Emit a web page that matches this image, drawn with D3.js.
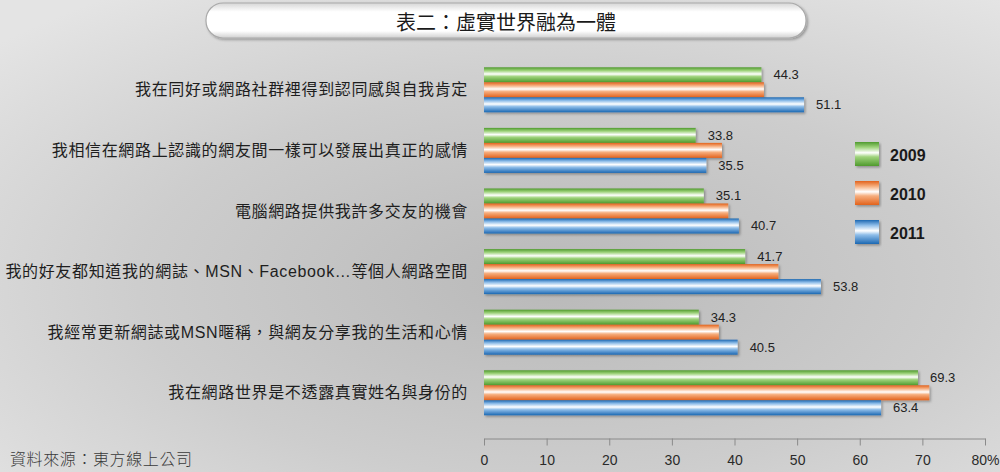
<!DOCTYPE html>
<html>
<head>
<meta charset="utf-8">
<script src="https://cdn.jsdelivr.net/npm/d3@7"></script>
<style>
  html, body { margin: 0; padding: 0; background: #ddd; }
  svg { display: block; }
</style>
</head>
<body>
<svg id="chart" width="1000" height="472"></svg>
<script>
// ---- data ----
const title = "表二：虛實世界融為一體";
const source = "資料來源：東方線上公司";
const categories = [
  "我在同好或網路社群裡得到認同感與自我肯定",
  "我相信在網路上認識的網友間一樣可以發展出真正的感情",
  "電腦網路提供我許多交友的機會",
  "我的好友都知道我的網誌、MSN、Facebook…等個人網路空間",
  "我經常更新網誌或MSN暱稱，與網友分享我的生活和心情",
  "我在網路世界是不透露真實姓名與身份的"
];
const seriesNames = ["2009", "2010", "2011"];
const values2009 = [44.3, 33.8, 35.1, 41.7, 34.3, 69.3];
const values2010 = [44.7, 38.0, 39.0, 47.0, 37.5, 71.1];
const values2011 = [51.1, 35.5, 40.7, 53.8, 40.5, 63.4];
const showLabel = [true, false, true];
const tickValues = [0, 10, 20, 30, 40, 50, 60, 70, 80];
const tickLabels = ["0", "10", "20", "30", "40", "50", "60", "70", "80%"];

const seriesValues = [values2009, values2010, values2011];
const colors = [
  { dark: "#4f9a2e", mid: "#9fd37c", light: "#ffffff" },
  { dark: "#e2621c", mid: "#f6ae7e", light: "#ffffff" },
  { dark: "#1c68b2", mid: "#8ebde9", light: "#ffffff" }
];

const svg = d3.select("#chart");
const W = 1000, H = 472;
const defs = svg.append("defs");

// background
const bg = defs.append("radialGradient").attr("id", "bg")
  .attr("cx", "0.55").attr("cy", "0.6").attr("r", "0.75");
bg.append("stop").attr("offset", "0%").attr("stop-color", "#b9b9b9");
bg.append("stop").attr("offset", "55%").attr("stop-color", "#cdcdcd");
bg.append("stop").attr("offset", "100%").attr("stop-color", "#e4e4e4");
svg.append("rect").attr("width", W).attr("height", H).attr("fill", "url(#bg)");

// bar gradients
colors.forEach((c, i) => {
  const g = defs.append("linearGradient").attr("id", "grad" + i)
    .attr("x1", 0).attr("y1", 0).attr("x2", 0).attr("y2", 1);
  g.append("stop").attr("offset", "0%").attr("stop-color", c.dark);
  g.append("stop").attr("offset", "22%").attr("stop-color", c.mid);
  g.append("stop").attr("offset", "45%").attr("stop-color", c.light);
  g.append("stop").attr("offset", "62%").attr("stop-color", c.mid);
  g.append("stop").attr("offset", "100%").attr("stop-color", c.dark);
});
const sh = defs.append("filter").attr("id", "shadow")
  .attr("x", "-5%").attr("y", "-20%").attr("width", "115%").attr("height", "160%");
sh.append("feDropShadow").attr("dx", 1.5).attr("dy", 1.5).attr("stdDeviation", 1)
  .attr("flood-color", "#000").attr("flood-opacity", 0.3);

// title box
const tg = defs.append("linearGradient").attr("id", "titleGrad")
  .attr("x1", 0).attr("y1", 0).attr("x2", 0).attr("y2", 1);
tg.append("stop").attr("offset", "0%").attr("stop-color", "#d6d6d6");
tg.append("stop").attr("offset", "25%").attr("stop-color", "#ffffff");
tg.append("stop").attr("offset", "80%").attr("stop-color", "#ffffff");
tg.append("stop").attr("offset", "100%").attr("stop-color", "#cfcfcf");
svg.append("rect").attr("x", 206).attr("y", 3).attr("width", 600).attr("height", 35)
  .attr("rx", 17).attr("ry", 17)
  .attr("fill", "url(#titleGrad)").attr("stroke", "#a9a9a9").attr("stroke-width", 1.2)
  .attr("filter", "url(#shadow)");
svg.append("text").attr("x", 506).attr("y", 21).attr("text-anchor", "middle")
  .attr("dominant-baseline", "central")
  .style("font-family", "'Noto Sans CJK TC', sans-serif").style("font-size", "20px")
  .style("font-weight", 400).attr("fill", "#1a1a1a").text(title);

// scales
const x = d3.scaleLinear().domain([0, 80]).range([484, 985]);
const y = d3.scaleBand().domain(categories).range([59.5, 423.1])
  .paddingInner(0.2574).paddingOuter(0.1287);
const ySub = d3.scaleBand().domain(seriesNames).range([0, y.bandwidth()]);

// category labels
svg.append("g").selectAll("text").data(categories).join("text")
  .attr("x", 468).attr("y", d => y(d) + y.bandwidth() / 2)
  .attr("text-anchor", "end").attr("dominant-baseline", "central")
  .style("font-family", "'Liberation Sans', 'Noto Sans CJK TC', sans-serif")
  .style("font-size", "16px").style("letter-spacing", "0.65px")
  .attr("fill", "#1e1e1e").text(d => d);

// bars
const groups = svg.append("g").selectAll("g").data(categories).join("g")
  .attr("transform", d => `translate(0,${y(d)})`);
seriesNames.forEach((s, si) => {
  groups.append("rect")
    .attr("x", x(0)).attr("y", ySub(s))
    .attr("width", (d, i) => x(seriesValues[si][i]) - x(0))
    .attr("height", ySub.bandwidth())
    .attr("fill", `url(#grad${si})`)
    .attr("filter", "url(#shadow)");
  if (showLabel[si]) {
    groups.append("text")
      .attr("x", (d, i) => x(seriesValues[si][i]) + 12)
      .attr("y", ySub(s) + ySub.bandwidth() / 2)
      .attr("dominant-baseline", "central")
      .style("font-family", "'Liberation Sans', Arial, sans-serif")
      .style("font-size", "13px").attr("fill", "#222")
      .text((d, i) => seriesValues[si][i].toFixed(1));
  }
});

// axis
const axis = d3.axisBottom(x).tickValues(tickValues).tickSizeOuter(0).tickSizeInner(7)
  .tickPadding(10).tickFormat((d, i) => tickLabels[i]);
const ax = svg.append("g").attr("transform", "translate(0,438.5)").call(axis);
ax.select(".domain").attr("stroke", "#8a8a8a");
ax.selectAll(".tick line").attr("stroke", "#8a8a8a");
ax.selectAll(".tick text")
  .style("font-family", "'Liberation Sans', Arial, sans-serif")
  .style("font-size", "14px").attr("fill", "#2a2a2a");

// legend
const leg = svg.append("g").selectAll("g").data(seriesNames).join("g")
  .attr("transform", (d, i) => `translate(855,${142 + i * 39})`);
leg.append("rect").attr("width", 24).attr("height", 24)
  .attr("fill", (d, i) => `url(#grad${i})`).attr("filter", "url(#shadow)");
leg.append("text").attr("x", 35).attr("y", 13).attr("dominant-baseline", "central")
  .style("font-family", "'Liberation Sans', Arial, sans-serif")
  .style("font-size", "16px").style("font-weight", "bold").attr("fill", "#1a1a1a")
  .text(d => d);

// source
svg.append("text").attr("x", 10).attr("y", 458).attr("dominant-baseline", "central")
  .style("font-family", "'Noto Sans CJK TC', sans-serif").style("font-size", "16px")
  .style("font-weight", 300).style("letter-spacing", "0.6px")
  .attr("fill", "#3a3a3a").text(source);
</script>
</body>
</html>
